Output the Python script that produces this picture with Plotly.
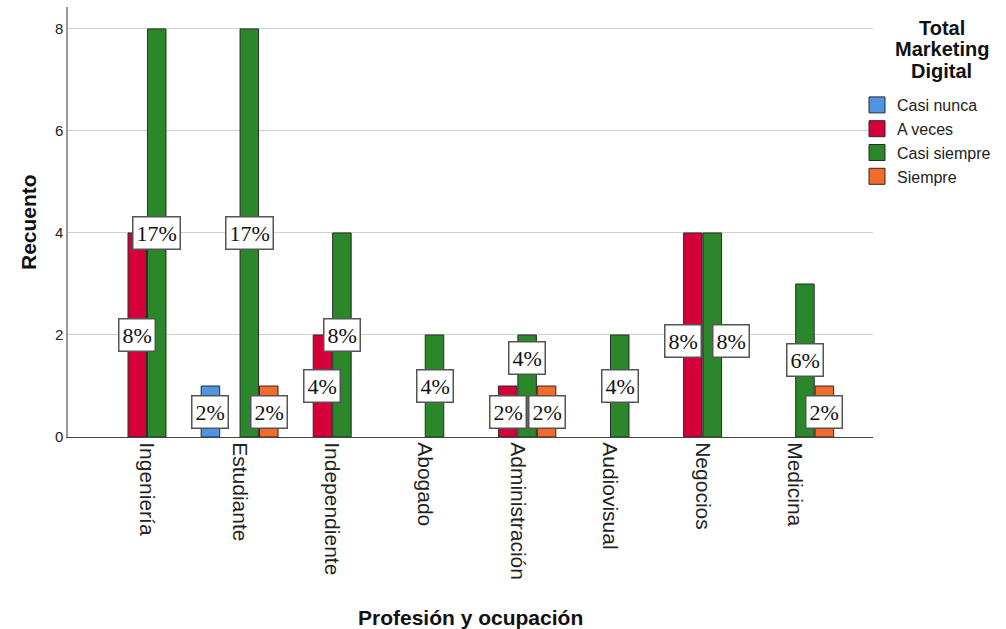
import plotly.graph_objects as go

categories = ["Ingeniería", "Estudiante", "Independiente", "Abogado",
              "Administración", "Audiovisual", "Negocios", "Medicina"]
series_names = ["Casi nunca", "A veces", "Casi siempre", "Siempre"]
casi_nunca   = [0, 1, 0, 0, 0, 0, 0, 0]
a_veces      = [4, 0, 2, 0, 1, 0, 4, 0]
casi_siempre = [8, 8, 4, 2, 2, 2, 4, 3]
siempre      = [0, 1, 0, 0, 1, 0, 0, 1]
series_values = [casi_nunca, a_veces, casi_siempre, siempre]
colors = ["#4f93e3", "#d5003a", "#2a882a", "#f26b2b"]
y_ticks = [0, 2, 4, 6, 8]
legend_title_lines = ["Total", "Marketing", "Digital"]

# pixel nudges of value labels that would otherwise collide (style only)
label_nudge = {
    ("Negocios", "A veces"): (-10, -6),
    ("Negocios", "Casi siempre"): (19, -6),
    ("Administración", "Casi siempre"): (0, 28),
}

W, H = 1006, 629
L, R, T, B = 68, 873, 7, 437  # plot area in pixels


def px_x(p):
    return (p - L) / (R - L)


def px_y(p):
    return (B - p) / (B - T)


total = sum(sum(s) for s in series_values)
bar_w = 0.2
pitch = 0.21
n = len(series_names)

fig = go.Figure()
annotations = []
for j, (name, vals, col) in enumerate(zip(series_names, series_values, colors)):
    off = (j - (n - 1) / 2) * pitch
    xs = [i + off for i in range(len(categories))]
    ys = [v if v > 0 else None for v in vals]
    fig.add_trace(go.Bar(
        x=xs, y=ys, width=bar_w, name=name, showlegend=False,
        marker=dict(color=col, line=dict(color="#2b2b2b", width=1)),
        hoverinfo="skip",
    ))
    # legend entry with a larger square swatch
    fig.add_trace(go.Scatter(
        x=[None], y=[None], mode="markers", name=name,
        marker=dict(symbol="square", size=16, color=col,
                    line=dict(color="#2b2b2b", width=1)),
    ))
    for cat, x, v in zip(categories, xs, vals):
        if v > 0:
            dx, dy = label_nudge.get((cat, name), (0, 0))
            annotations.append(dict(
                x=x, y=v / 2, xref="x", yref="y", xshift=dx, yshift=dy,
                text=f"{round(100 * v / total)}%", showarrow=False,
                font=dict(family="Liberation Serif", size=22, color="#111"),
                bgcolor="white", bordercolor="#555", borderwidth=1.5, borderpad=3,
            ))

# axis titles
annotations += [
    dict(text="<b>Profesión y ocupación</b>", xref="paper", yref="paper",
         x=0.5, y=px_y(617), xanchor="center", yanchor="middle", showarrow=False,
         font=dict(family="Liberation Sans", size=21, color="#111")),
    dict(text="<b>Recuento</b>", xref="paper", yref="paper",
         x=px_x(28), y=0.5, xanchor="center", yanchor="middle", showarrow=False,
         textangle=-90, font=dict(family="Liberation Sans", size=21, color="#111")),
]
# legend title (tight line spacing)
for k, line in enumerate(legend_title_lines):
    annotations.append(dict(
        text=f"<b>{line}</b>", xref="paper", yref="paper",
        x=px_x(942), y=px_y(28 + 21.5 * k), xanchor="center", yanchor="middle",
        showarrow=False, font=dict(family="Liberation Sans", size=20, color="#111")))

fig.update_layout(
    width=W, height=H,
    margin=dict(l=L, r=W - R, t=T, b=H - B, autoexpand=False),
    paper_bgcolor="white", plot_bgcolor="white",
    barmode="overlay",
    showlegend=True,
    legend=dict(
        font=dict(family="Liberation Sans", size=16, color="#222"),
        xref="container", yref="container",
        x=857 / W, y=1 - 88 / H, xanchor="left", yanchor="top",
        tracegroupgap=0, itemsizing="trace",
        bgcolor="rgba(0,0,0,0)",
    ),
    xaxis=dict(
        range=[-0.853, 7.84],
        tickmode="array", tickvals=list(range(len(categories))), ticktext=categories,
        tickangle=90, ticks="", showgrid=False, zeroline=False,
        showline=True, linecolor="#444", linewidth=1,
        tickfont=dict(family="Liberation Sans", size=21, color="#222"),
    ),
    yaxis=dict(
        range=[0, 8.43],
        tickmode="array", tickvals=y_ticks, ticktext=[str(t) for t in y_ticks],
        ticks="", showgrid=True, gridcolor="#d0d0d0", gridwidth=1, zeroline=False,
        showline=True, linecolor="#999", linewidth=1.5,
        tickfont=dict(family="Liberation Sans", size=15, color="#222"),
    ),
    annotations=annotations,
)

fig.write_html("out.html")
